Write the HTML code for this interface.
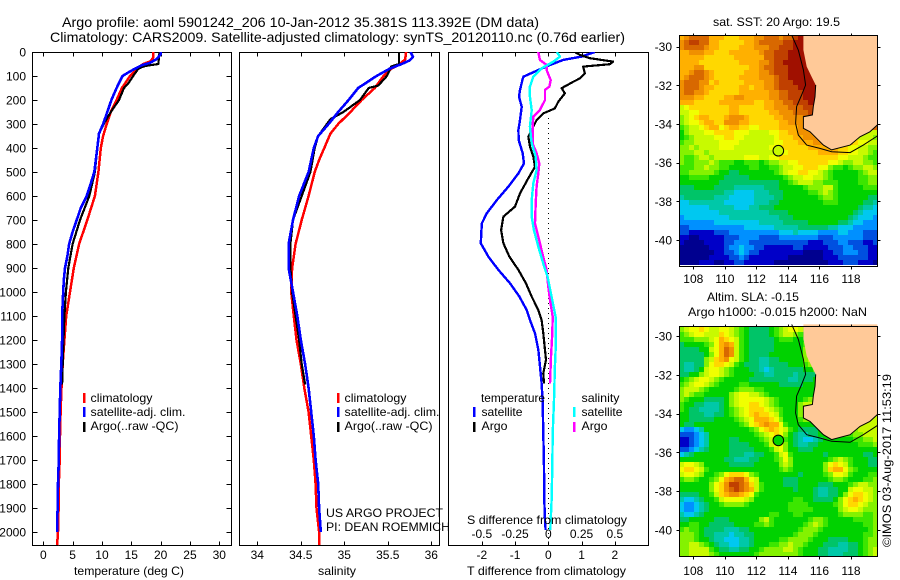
<!DOCTYPE html>
<html lang="en">
<head>
<meta charset="utf-8">
<title>Argo profile 5901242_206</title>
<style>
html,body{margin:0;padding:0;background:#fff;}
svg{display:block;}
text{font-family:"Liberation Sans",sans-serif;font-size:12px;fill:#000;}
</style>
</head>
<body>
<svg id="chart" xmlns="http://www.w3.org/2000/svg" width="900" height="580" viewBox="0 0 900 580">
<defs>
<clipPath id="clip-p1"><rect x="32" y="52" width="200" height="494"/></clipPath>
<clipPath id="clip-p2"><rect x="239" y="52" width="201" height="494"/></clipPath>
<clipPath id="clip-p3"><rect x="448" y="52" width="201" height="494"/></clipPath>
</defs>
<text x="62" y="27" style="font-size:14px" textLength="477" lengthAdjust="spacingAndGlyphs">Argo profile: aoml 5901242_206 10-Jan-2012 35.381S 113.392E (DM data)</text>
<text x="50" y="42" style="font-size:14px" textLength="575" lengthAdjust="spacingAndGlyphs">Climatology: CARS2009. Satellite-adjusted climatology: synTS_20120110.nc (0.76d earlier)</text>

<g id="maps"></g>
<g id="panels"></g>

<text x="74" y="575" textLength="110" lengthAdjust="spacingAndGlyphs">temperature (deg C)</text>
<text x="318" y="575" textLength="38" lengthAdjust="spacingAndGlyphs">salinity</text>
<text x="467" y="575" textLength="159" lengthAdjust="spacingAndGlyphs">T difference from climatology</text>
<text x="467" y="524" textLength="160" lengthAdjust="spacingAndGlyphs">S difference from climatology</text>

<g>
<rect x="83" y="393" width="2.5" height="10" fill="#f00"/>
<rect x="83" y="407" width="2.5" height="10" fill="#00f"/>
<rect x="83" y="422" width="2.5" height="10" fill="#000"/>
<text x="90.5" y="402" textLength="62" lengthAdjust="spacingAndGlyphs">climatology</text>
<text x="90.5" y="416" textLength="95" lengthAdjust="spacingAndGlyphs">satellite-adj. clim.</text>
<text x="90.5" y="430" textLength="88" lengthAdjust="spacingAndGlyphs">Argo(..raw -QC)</text>
</g>
<g>
<rect x="337" y="393" width="2.5" height="10" fill="#f00"/>
<rect x="337" y="407" width="2.5" height="10" fill="#00f"/>
<rect x="337" y="422" width="2.5" height="10" fill="#000"/>
<text x="344.5" y="402" textLength="62" lengthAdjust="spacingAndGlyphs">climatology</text>
<text x="344.5" y="416" textLength="95" lengthAdjust="spacingAndGlyphs">satellite-adj. clim.</text>
<text x="344.5" y="430" textLength="88" lengthAdjust="spacingAndGlyphs">Argo(..raw -QC)</text>
</g>
<text x="326" y="517" textLength="117" lengthAdjust="spacingAndGlyphs">US ARGO PROJECT</text>
<text x="326" y="531" textLength="124" lengthAdjust="spacingAndGlyphs">PI: DEAN ROEMMICH</text>
<g>
<text x="481" y="402" textLength="64" lengthAdjust="spacingAndGlyphs">temperature</text>
<text x="481.5" y="416" textLength="41" lengthAdjust="spacingAndGlyphs">satellite</text>
<text x="481.5" y="430" textLength="26" lengthAdjust="spacingAndGlyphs">Argo</text>
<rect x="473" y="407" width="2.5" height="10" fill="#00f"/>
<rect x="473" y="422" width="2.5" height="10" fill="#000"/>
<text x="581.5" y="402" textLength="38" lengthAdjust="spacingAndGlyphs">salinity</text>
<text x="581.5" y="416" textLength="41" lengthAdjust="spacingAndGlyphs">satellite</text>
<text x="581.5" y="430" textLength="26" lengthAdjust="spacingAndGlyphs">Argo</text>
<rect x="573" y="407" width="2.5" height="10" fill="#0ff"/>
<rect x="573" y="422" width="2.5" height="10" fill="#f0f"/>
</g>
<text x="713" y="26" textLength="127" lengthAdjust="spacingAndGlyphs">sat. SST: 20 Argo: 19.5</text>
<text x="707" y="301" textLength="92" lengthAdjust="spacingAndGlyphs">Altim. SLA: -0.15</text>
<text x="688" y="316" textLength="179" lengthAdjust="spacingAndGlyphs">Argo h1000: -0.015 h2000: NaN</text>
<text transform="translate(891,547) rotate(-90)" textLength="173" lengthAdjust="spacingAndGlyphs">©IMOS 03-Aug-2017 11:53:19</text>
</svg>
<script>
// ---- profile data ----
const depthTicks = [0,100,200,300,400,500,600,700,800,900,1000,1100,1200,1300,1400,1500,1600,1700,1800,1900,2000];
const tempTicks = [0,5,10,15,20,25,30];
const salTicks = [34,34.5,35,35.5,36];
const salTickLabels = ['34','34.5','35','35.5','36'];
const tDiffTicks = [-2,-1,0,1,2];
const sDiffTicks = [-0.5,-0.25,0,0.25,0.5];
const sDiffTickLabels = ['-0.5','-0.25','0','0.25','0.5'];

const tempClimDepth = [0,25,40,50,60,80,100,150,200,250,300,350,400,500,600,700,800,900,1000,1100,1200,1300,1400,1500,1600,1700,1800,1900,2000,2055];
const tempClim = [18.75,18.7,18.2,17,16.5,15.6,14.8,13.4,12.5,11.5,10.8,10.2,9.8,9.4,8.8,7.5,6.1,5.2,4.55,3.9,3.6,3.3,3.1,2.95,2.85,2.8,2.65,2.6,2.5,2.35];
const tempSatDepth = [0,10,30,45,55,70,85,100,150,200,250,300,340,400,500,550,600,650,700,750,800,850,900,950,1000,1100,1200,1300,1400,1500,1600,1700,1800,1900,1950,2000];
const tempSat = [20,20,19.3,18.2,16.8,15.6,14.5,13.5,12.5,11.6,10.9,10.2,9.5,9.2,8.7,8.07,7.4,6.4,5.7,5,4.4,4.1,3.7,3.5,3.4,3.2,3.2,3.07,2.9,2.8,2.7,2.65,2.5,2.45,2.35,2.35];
const tempArgoDepth = [0,50,55,60,70,100,130,150,200,250,300,340,400,500,600,700,800,900,1000,1100,1200,1300,1385];
const tempArgo = [19.8,19.6,18.2,17.1,16.2,15.3,14.5,13.75,12.9,11.5,10.3,9.5,9.2,8.8,7.84,6.25,5,4.26,3.86,3.6,3.45,3.3,3.2];

const salClimDepth = [0,30,50,70,100,150,200,250,300,340,400,450,500,600,700,800,900,1000,1100,1200,1300,1400,1500,1600,1700,1800,1900,2000,2055];
const salClim = [35.71,35.7,35.64,35.54,35.45,35.35,35.2,35.07,34.93,34.84,34.77,34.71,34.66,34.59,34.51,34.44,34.4,34.39,34.42,34.45,34.5,34.54,34.59,34.62,34.65,34.67,34.68,34.71,34.71];
const salSatDepth = [0,20,35,50,70,100,150,200,250,300,350,400,500,600,700,800,900,1000,1100,1200,1300,1400,1500,1600,1700,1800,1900,2000];
const salSat = [35.76,35.79,35.75,35.66,35.52,35.37,35.16,35.05,34.93,34.82,34.7,34.65,34.59,34.48,34.41,34.36,34.36,34.41,34.46,34.5,34.55,34.59,34.62,34.65,34.67,34.7,34.71,34.73];
const salArgoDepth = [0,50,60,100,140,150,200,250,280,350,400,500,600,700,800,900,1000,1100,1200,1300,1385];
const salArgo = [35.63,35.63,35.54,35.49,35.39,35.28,35.18,34.99,34.84,34.7,34.66,34.61,34.51,34.41,34.38,34.38,34.4,34.44,34.48,34.51,34.55];

const tDiffSatDepth = [0,19,33,54,75,103,117,158,186,228,283,325,367,422,464,506,561,617,672,714,797,853,908,964,1019,1075,1117,1172,1240,1310,1380,1450,1589,1728,1867,1950,1992];
const tDiffSat = [1.4,1,0.45,0.05,-0.3,-0.75,-0.78,-0.85,-0.88,-0.8,-0.85,-0.9,-0.89,-0.77,-0.73,-0.9,-1.2,-1.55,-1.85,-2,-2.03,-1.8,-1.5,-1.15,-0.87,-0.65,-0.55,-0.4,-0.3,-0.25,-0.2,-0.17,-0.15,-0.13,-0.12,-0.1,-0.08];
const tDiffArgoDepth = [0,12,26,40,51,61,89,110,124,151,172,207,235,256,283,311,353,394,436,478,533,589,644,686,742,797,853,908,964,1019,1075,1117,1172,1242,1283,1339,1381];
const tDiffArgo = [0.8,0.95,1.25,1.95,1.85,1.05,1.1,0.95,0.75,0.4,0.5,0.3,0.2,-0.15,-0.35,-0.45,-0.6,-0.55,-0.45,-0.4,-0.63,-0.85,-1,-1.35,-1.42,-1.35,-1.17,-0.9,-0.67,-0.5,-0.3,-0.2,-0.15,-0.1,-0.07,-0.15,-0.13];
const sDiffArgoDepth = [0,33,54,75,117,144,158,200,242,269,311,381,422,464,506,561,631,714,769,853,908,978,1033,1103,1172,1269,1381];
const sDiffArgo = [-0.075,-0.063,-0.013,-0.013,0.018,0.008,-0.025,-0.025,-0.063,-0.113,-0.118,-0.118,-0.088,-0.068,-0.075,-0.088,-0.095,-0.1,-0.075,-0.038,-0.013,0,0.013,0.033,0.03,0.02,0.013];
const sDiffSatDepth = [0,19,40,68,103,144,186,242,311,381,436,492,547,617,686,742,811,881,936,1019,1103,1172,1242,1311,1450,1589,1728,1867,1992];
const sDiffSat = [0.063,0.088,0.038,-0.05,-0.113,-0.138,-0.138,-0.125,-0.138,-0.125,-0.095,-0.088,-0.113,-0.125,-0.125,-0.108,-0.075,-0.038,-0.005,0.025,0.055,0.055,0.055,0.05,0.043,0.033,0.03,0.025,0.015];

// ---- map data ----
const lonTicks = [108,110,112,114,116,118];
const latTicks = [-30,-32,-34,-36,-38,-40];
const landLon = [114.98,114.98,115.19,115.5,115.76,115.72,115.61,115.55,114.98,114.98,115.4,115.82,116.25,116.77,117.94,118.57,119.2,119.67,119.67];
const landLat = [-29.4,-30.17,-31.03,-31.55,-31.98,-32.59,-33.1,-33.53,-33.62,-34.22,-34.4,-34.74,-35.09,-35.34,-35.09,-34.66,-34.4,-34.05,-29.4];
const isobathLon = [114.24,114.66,114.98,115.12,114.87,114.55,114.49,114.66,115.19,116.03,116.77,117.94,118.78,119.67];
const isobathLat = [-29.4,-30.17,-31.2,-31.98,-32.5,-33.1,-33.97,-34.57,-35.09,-35.26,-35.43,-35.48,-35.09,-34.62];
const argoLon = 113.392;
const argoLat = -35.381;
const palette = {a:'#00008f',b:'#0000c8',c:'#0050e0',d:'#0090ff',e:'#00c8f0',f:'#00c8a8',g:'#00c468',h:'#00d200',i:'#3ce600',j:'#84f200',k:'#c8fa00',l:'#f0ff00',m:'#ffd800',n:'#ffb000',o:'#f09000',p:'#d86800',q:'#c04000',r:'#a01000'};
const sstRows = [
"noppppnnnmmmnnnoopppoppqr",
"opqqppnnmmmmmnnopppppqqrr",
"opppponnmmmmnnnoooppqqqrr",
"nnooonnmmmnnnnnnoppqqqrrr",
"nnnnnmmmmmmnnnnnnppqqqrrrr",
"nnnnmmmmmmmmnnnnoopqqrrrrr",
"nnnoommmmmmmmmnnoppqqqrrrr",
"nnopponmmmmmmnnnoopqqqrrrrr",
"noppponmmmmmnnnnooopqqrrrrrr",
"opppoomnmmmmmnnnnoopqqqrrrrrr",
"oppponnmmmmmnnmnnoopqqqqrrrrr",
"oppoonmmmmmmnnnnnnooppqqqrrrr",
"ooonnmmmmnnoonnnnnooppqqqrrrr",
"nnnmmmmmnnnnnnnmmnnooppqqqrr",
"klmmmmmmmmnnmmmmmnnooopppqq",
"kkllmmmmmmnnmmmmmmnnooopppq",
"jklmnnmmmnooonmmmmmnnoooopp",
"jkllmnnmmooonnmmmmmmnnoooop",
"ijkklmnnlmnnmmllmmmmnnnnoop",
"hjkkkllmmmmlllkkkkllmmnnooooonnmmlkkkkkk",
"hijkkkkllmmllkkkkkklmmmnnoooooonnmmlkkkj",
"ijjkkkkkllllkkkkkkkllmmmnnnooonnnnnmllkk",
"jjkjkkkklllkkkkkkkllmmmmmmnnnnnnmmllkkjj",
"jjjkkjkkkkkkkkkkkkkkllmmmmmmnnnnmmllkkji",
"jiijkkjkkkkkklllkkllmmmmmmmmmmmmllkkkjii",
"jiijjjkjiiihhiiihijjkkllmmmmmmllkjjkkjji",
"iiijjkjjiihhhhiihhiijkkllmmmlljiihijjkkj",
"iijjjjjihhgghhhhhhhijkllmmllkjihhhhhijkk",
"hhiiiihhhggggghhhhhhhijkkllkkjihhhhhiijj",
"hhhhhhhhgggggggggggghhijkkkjjiiihhhhiijj",
"ggghhhhggggffffffggghhhhhijjjkkihhhhhiii",
"gggggggggffeeeefffggghhhhhiijkjihhhhhhhh",
"fggggggfffeeeeeffffgghhhhhhhijjihhhhhhgg",
"eefffffffeeeeeefffgghhhhhhhhhiiihhhhhggf",
"eeeeeefffffeeeffggghhhhhhhhhhhhhhhhhgffe",
"eeeeeeeeffffffffffgggghhhhhhhhhhhhhgfeee",
"deeeeeeeeeffffffffffggghhhhhhhhhhhgfeeed",
"dddddddeeeeeeeeefffffggggghhhhhhggfeeddd",
"ccdddddddddddeeeeeefffffggggggffeeeddddd",
"ccbbbbbcccddddddddddeeefeeeeddddeedddccc",
"bbaabbbbbcccddddccccddddddddcccddddddccc",
"baaaabbbbccdddccccccccccccbbbcccddcccbbc",
"aaaaaabbbcddeddccbbbbbbccbbbbbcccddcccbb",
"aaaaaaabbccdedccbbbbbbbbbaaaabbccdddccbb",
"aaaaaabbbbccdcbbbbbbbbaaaaaaabbbccccccbb",
"aaaabbbaabbccbbbbbbaaaaaaaaaaabbbcccbbba"
];
const slaRows = [
"jkllmlkkllkjihgggghijkllkjihhhij",
"ijkllkkkmlkjihgggghijkkjihhhijj",
"iiijjjklnmlkihggggghiiihhhhjkk",
"ghhhhijlnonkihggggghhhhhhijkkj",
"gggghhklnpokihggggghhhhhhjkljj",
"ggggghjlnpokihgggghhhhhhhjkljj",
"gggggjkmnolkihggffgghhhhhjkkjj",
"gffggjlmmlkihgggffgggghhhijjjj",
"gffghkllkjihhhggfefgggggghhijj",
"gghhjkllkjihhhhggffggggfgggghijk",
"hijkllkjihhhhhggggggggffggghhij",
"ijkllkjihhhhiihhhhhhggggghhhij",
"jkkkjihhhhhijjjiihhhhhhhhhhhhij",
"jkjiihhhhhjkllkkjihhhhhhhhhhhijk",
"jihhhgggghjklllllkjihhhhhijihhhijk",
"ihhggfffghjkllmmlkjihhhhjkkjhhhijkk",
"ihggffffghijklmmmlkjihhhjkkkjhhijkk",
"hhgggffgghijklmnmmlkihhhjkkkjiiijjk",
"hhggggghhhhijklnnnmljhhhijjjiiijjkkk",
"hgghhhhhhhhhijlmnonnlihhhhhhhhhijjkkkkkk",
"eddefhhhhhhhhhijlmnmlkihgggghhhhiijjkkkk",
"cccdefhhhhhhhhhijklmljhgffgghhhhhiijjkkk",
"bbcdefhhhhgghhhhijklkihgfeefghhhhhhiijjk",
"bbcdefhhhhgggghhhiklljhgffgghhhhhhhhiiij",
"ccdefghhhhggggghhhikljhhggghhhhhhhhhhhhh",
"efghhhhhhhgggffgghhiklihhhhhhghhhhhhhggh",
"hhhhhhhhhggfffgghhhijljhhhhhhhijkjihhhgg",
"kllkjhhhhhggggghhhhhjkjhhhhhhjlmlkihhhgg",
"lmmlkihhhhhhhhhhhhhhijihhhhhhjmnnljihhhh",
"kllkjhhijlmmmljihhhhhhhhghhhhijllkihhhii",
"ijjihhijlnoppnlkhhhhhggghhhhhhijjihhhiij",
"hhhhhhjlmoqqpomkihhhhggghhhhggghhhijkkjj",
"hhhhhhjlmopqponkihhhhhhghhhgffgghhkllkkj",
"gggghhikmnoonmlihhhhhhhhhhhgffgghjlmmlkj",
"feefghhikllllkjhhhhhhhhiihhgggghjlmnmlkj",
"eddefghhijjjjihhhhhhhhiiiihhhhhijlmmlkjj",
"eddefghhhhhhhhhhhhhhhhiiiiihhhhhjkllkjjj",
"feefghhhhhhhhhhhhhiihhhiihhhhhhhijjjjiij",
"gghhhhhggghhhhhhjkihhhhhhhijjihhhhhiiiij",
"hhiihhggggghhhhiijihhhhhhijkjihhhhhhhiij",
"ijiihggggfffgghhhhhhhhhhijjjihhhhhhhhhij",
"jjjihggfffeffgghhhhhhhhijjjihhhhhhhhhiij",
"jjjihhgffeeeffghhhhhiijjjjihhhgggghhhijj",
"jjkkjihgffeeffghhhiijjkjjihhhgggffgghijj",
"jjkkkkihggffgghhijjjjkkjihhhggffffgghijk",
"jjkkkkjihhhhhhhijjjjjjjjihhhggfffggghijk"
];

const NS = 'http://www.w3.org/2000/svg';
const panelsG = document.getElementById('panels');
const mapsG = document.getElementById('maps');

function mk(tag, parent, attrs){
  const el = document.createElementNS(NS, tag);
  for (const k in attrs) el.setAttribute(k, attrs[k]);
  parent.appendChild(el);
  return el;
}
function label(parent, x, y, str, anchor){
  const el = mk('text', parent, {x:x, y:y, 'text-anchor':anchor||'middle'});
  el.textContent = str;
  return el;
}

// ---- axis functions ----
const depthY = d => 52 + d * 0.24;
const tempX = t => 43.3 + t * 5.867;
const salX = s => 257.3 + (s - 34) * 87;
const tDiffX = t => 548.3 + t * 33.25;
const sDiffX = s => 548.3 + s * 133;
const lonX = lon => 693.3 + (lon - 108) * 15.77;
const sstY = lat => 46.7 + (-30 - lat) * 19.33;
const slaY = lat => 336 + (-30 - lat) * 19.4;

function profile(parent, depths, values, xFn, color, width, clip, name){
  const pts = depths.map((d,i) => xFn(values[i]).toFixed(1) + ',' + depthY(d).toFixed(1)).join(' ');
  const line = mk('polyline', parent, {points:pts, fill:'none', stroke:color, 'stroke-width':width, 'stroke-linejoin':'round', 'shape-rendering':'crispEdges', 'clip-path':'url(#'+clip+')'});
  
  
}
function box(parent, x0, x1, y0, y1, name){
  const r = mk('rect', parent, {x:x0, y:y0, width:x1-x0, height:y1-y0, fill:'none', stroke:'#000', 'stroke-width':1, 'shape-rendering':'crispEdges'});
  
  
}
function tick(parent, x1, y1, x2, y2, name){
  const t = mk('line', parent, {x1:x1, y1:y1, x2:x2, y2:y2, stroke:'#000', 'stroke-width':1, 'shape-rendering':'crispEdges'});
  
  
}

const P_TOP = 52.5, P_BOT = 545.5;

// panel 1: temperature
box(panelsG, 32.5, 231.5, P_TOP, P_BOT, 'temperature-panel-frame');
depthTicks.forEach(d => {
  const y = Math.round(depthY(d)) + 0.5;
  tick(panelsG, 32.5, y, 37.5, y, 'depth-tick');
  tick(panelsG, 226.5, y, 231.5, y, 'depth-tick');
  const t = label(panelsG, 26, depthY(d) + 4.5, String(d), 'end');
  
  
});
tempTicks.forEach(v => {
  const x = Math.round(tempX(v)) + 0.5;
  tick(panelsG, x, P_TOP, x, P_TOP + 4, 'temperature-tick');
  tick(panelsG, x, P_BOT - 4, x, P_BOT, 'temperature-tick');
  const t = label(panelsG, tempX(v), 559, String(v));
  
  
});
profile(panelsG, tempClimDepth, tempClim, tempX, '#f00', 2.5, 'clip-p1', 'temperature-climatology-line');
profile(panelsG, tempArgoDepth, tempArgo, tempX, '#000', 2.2, 'clip-p1', 'temperature-argo-line');
profile(panelsG, tempSatDepth, tempSat, tempX, '#00f', 2.6, 'clip-p1', 'temperature-satellite-line');

// panel 2: salinity
box(panelsG, 239.5, 439.5, P_TOP, P_BOT, 'salinity-panel-frame');
salTicks.forEach((v,i) => {
  const x = Math.round(salX(v)) + 0.5;
  tick(panelsG, x, P_TOP, x, P_TOP + 4, 'salinity-tick');
  tick(panelsG, x, P_BOT - 4, x, P_BOT, 'salinity-tick');
  const t = label(panelsG, salX(v), 559, salTickLabels[i]);
  
  
});
profile(panelsG, salClimDepth, salClim, salX, '#f00', 2.5, 'clip-p2', 'salinity-climatology-line');
profile(panelsG, salArgoDepth, salArgo, salX, '#000', 2.2, 'clip-p2', 'salinity-argo-line');
profile(panelsG, salSatDepth, salSat, salX, '#00f', 2.6, 'clip-p2', 'salinity-satellite-line');

// panel 3: differences
box(panelsG, 448.5, 648.5, P_TOP, P_BOT, 'difference-panel-frame');
tDiffTicks.forEach(v => {
  const x = Math.round(tDiffX(v)) + 0.5;
  tick(panelsG, x, P_TOP, x, P_TOP + 4, 't-difference-tick');
  tick(panelsG, x, P_BOT - 4, x, P_BOT, 't-difference-tick');
  const t = label(panelsG, tDiffX(v), 559, String(v));
  
  
});
sDiffTicks.forEach((v,i) => {
  const t = label(panelsG, sDiffX(v), 538, sDiffTickLabels[i]);
  
  
});
const zeroLine = mk('line', panelsG, {x1:tDiffX(0), y1:118, x2:tDiffX(0), y2:P_BOT, stroke:'#000', 'stroke-width':1, 'stroke-dasharray':'1 4', 'shape-rendering':'crispEdges'});


profile(panelsG, tDiffSatDepth, tDiffSat, tDiffX, '#00f', 2.4, 'clip-p3', 't-difference-satellite-line');
profile(panelsG, tDiffArgoDepth, tDiffArgo, tDiffX, '#000', 2.2, 'clip-p3', 't-difference-argo-line');
profile(panelsG, sDiffArgoDepth, sDiffArgo, sDiffX, '#f0f', 2.4, 'clip-p3', 's-difference-argo-line');
profile(panelsG, sDiffSatDepth, sDiffSat, sDiffX, '#0ff', 2.4, 'clip-p3', 's-difference-satellite-line');

// maps
const COLS = 40, ROWS = 46, MAP_L = 679.5, MAP_R = 877.5;
function drawMap(rows, top, gridBottom, frameBottom, yFn, prefix, argoFill, xLabelY){
  const cw = (MAP_R - MAP_L) / COLS, ch = (gridBottom - top) / ROWS;
  rows.forEach((row, r) => {
    const fullRow = row.padEnd(COLS, row[row.length - 1]);
    for (let c = 0; c < COLS; c++) {
      const x0 = Math.round(MAP_L + c * cw), x1 = Math.round(MAP_L + (c + 1) * cw);
      const y0 = Math.round(top + r * ch), y1 = Math.round(top + (r + 1) * ch);
      const cell = mk('rect', mapsG, {x:x0, y:y0, width:x1-x0, height:y1-y0, fill:palette[fullRow[c]], 'shape-rendering':'crispEdges'});
      
      
    }
  });
  const landPts = landLon.map((lon,i) => lonX(lon).toFixed(1) + ',' + yFn(landLat[i]).toFixed(1)).join(' ');
  const land = mk('polygon', mapsG, {points:landPts, fill:'#ffc998'});
  
  
  const coastPts = landLon.slice(4, 18).map((lon,i) => lonX(lon).toFixed(1) + ',' + yFn(landLat[i+4]).toFixed(1)).join(' ');
  const coast = mk('polyline', mapsG, {points:coastPts, fill:'none', stroke:'#000', 'stroke-width':1});
  
  
  const isoPts = isobathLon.map((lon,i) => lonX(lon).toFixed(1) + ',' + yFn(isobathLat[i]).toFixed(1)).join(' ');
  const iso = mk('polyline', mapsG, {points:isoPts, fill:'none', stroke:'#000', 'stroke-width':1});
  
  
  const argo = mk('circle', mapsG, {cx:lonX(argoLon), cy:yFn(argoLat), r:5.3, fill:argoFill, stroke:'#000', 'stroke-width':1});
  
  
  box(mapsG, MAP_L, MAP_R, top, frameBottom, prefix + '-frame');
  latTicks.forEach(lat => {
    const y = Math.round(yFn(lat)) + 0.5;
    tick(mapsG, MAP_L - 3, y, MAP_L, y, prefix + '-lat-tick');
    tick(mapsG, MAP_R, y, MAP_R + 3, y, prefix + '-lat-tick');
    const t = label(mapsG, 672, yFn(lat) + 4.5, String(lat), 'end');
    
    
  });
  lonTicks.forEach(lon => {
    const x = Math.round(lonX(lon)) + 0.5;
    tick(mapsG, x, top - 2, x, top, prefix + '-lon-tick');
    tick(mapsG, x, frameBottom, x, frameBottom + 3, prefix + '-lon-tick');
    const t = label(mapsG, lonX(lon), xLabelY, String(lon));
    
    
  });
}
drawMap(sstRows, 35.5, 265, 266.5, sstY, 'sst-map', palette.k, 283);
drawMap(slaRows, 326.5, 556.5, 556.5, slaY, 'sla-map', palette.h, 575);
</script>
</body>
</html>
